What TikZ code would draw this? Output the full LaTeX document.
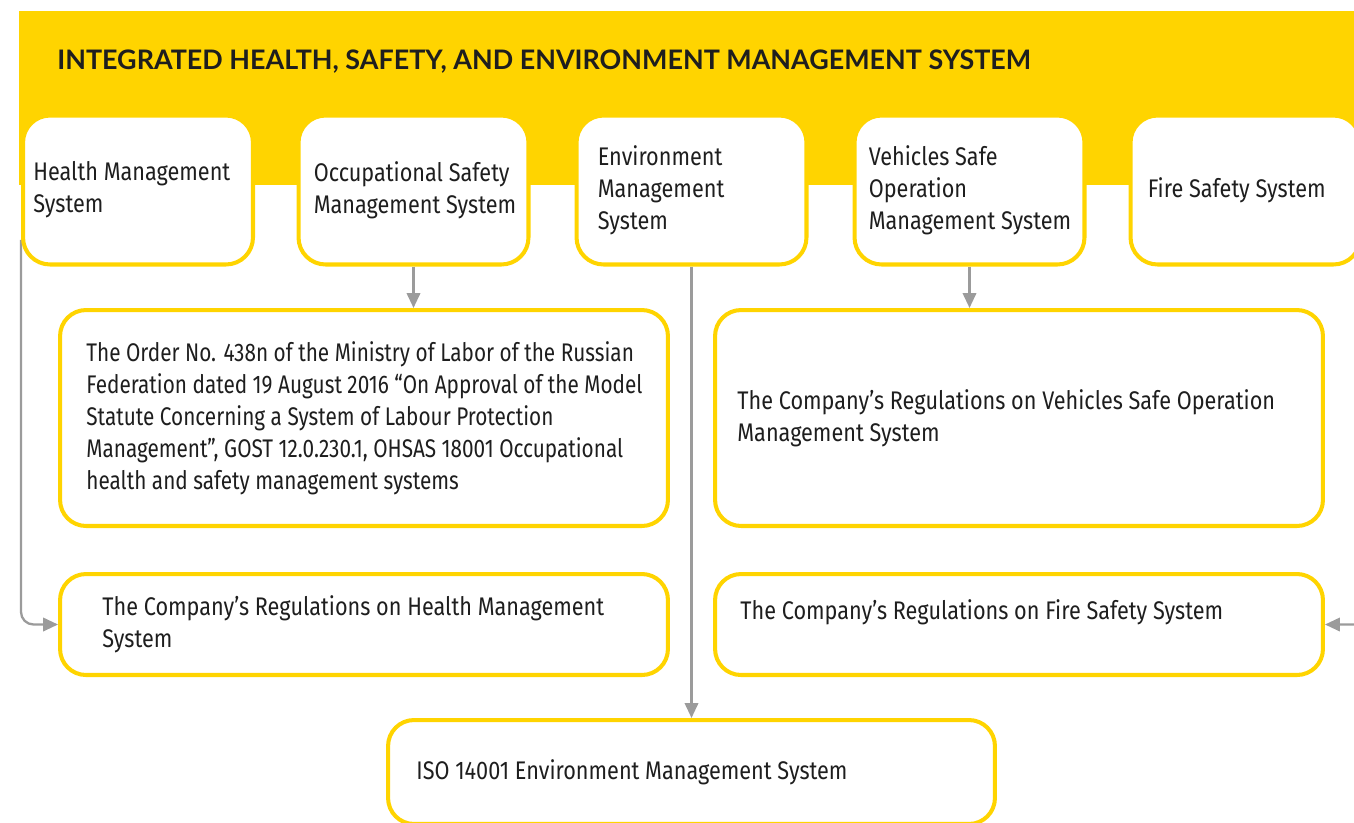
\documentclass[tikz,border=0pt]{standalone}
\usepackage{fontspec}
\setmainfont{Fira Sans}[FakeStretch=0.85]
\newfontfamily\ordfont{Fira Sans}[FakeStretch=0.815]
\newfontfamily\titlefont{Lato}
\usepackage{tikz}
\usetikzlibrary{arrows.meta,positioning,backgrounds}
\definecolor{hseyellow}{HTML}{FFD400}
\definecolor{hsegray}  {HTML}{9B9B9B}
\definecolor{hsetext}  {HTML}{1E1E1E}

\begin{document}
\begin{tikzpicture}[x=0.02cm, y=-0.02cm,
      topbox/.style={draw=hseyellow, line width=2.3pt, fill=white, rounded corners=0.54cm,
                     minimum width=4.6cm, minimum height=2.98cm},
      rulebox/.style={draw=hseyellow, line width=2.3pt, fill=white, rounded corners=0.52cm,
                      minimum width=12.16cm},
      boxtext/.style={inner sep=0pt, align=left, text=hsetext,
                      font=\fontsize{14.5}{18.2}\selectfont},
      conn/.style={hsegray, line width=1.3pt, -{Triangle[length=3mm,width=2.7mm]}},
    ]
      \useasboundingbox (0,0) rectangle (1354,822);

      % top row
      \node[topbox] (hms) at (138,190) {};
      \node[topbox] (oss) at (413.5,190) {};
      \node[topbox] (ems) at (691.5,190) {};
      \node[topbox] (vso) at (969.5,190) {};
      \node[topbox] (fss) at (1245.5,190) {};

      \node[boxtext, right=0.24cm of hms.west] (hmstxt) {Health Management\\System};
      \node[boxtext, right=0.34cm of oss.west] (osstxt) {Occupational Safety\\Management System};
      \node[boxtext, right=0.46cm of ems.west] (emstxt) {Environment\\Management\\System};
      \node[boxtext, right=0.32cm of vso.west] (vsotxt) {Vehicles Safe\\Operation\\Management System};
      \node[boxtext, right=0.38cm of fss.west] (fsstxt) {Fire Safety System};

      % documents
      \node[rulebox, minimum height=4.32cm] (ohsreg) at (364,418) {};
      \node[rulebox, minimum height=4.32cm] (vsoreg) at (1019,418) {};
      \node[rulebox, minimum height=2.02cm] (hmreg)  at (364,624.5) {};
      \node[rulebox, minimum height=2.02cm] (fsreg)  at (1019,624.5) {};
      \node[rulebox, minimum width=12.14cm, minimum height=2.08cm] (isoreg) at (691.5,772) {};

      \node[boxtext, font=\ordfont\fontsize{14.5}{18.2}\selectfont,
            right=0.56cm of ohsreg.west] (ohstxt)
        {The Order No. 438n of the Ministry of Labor of the Russian\\
         Federation dated 19 August 2016 “On Approval of the Model\\
         Statute Concerning a System of Labour Protection\\
         Management”, GOST 12.0.230.1, OHSAS 18001 Occupational\\
         health and safety management systems};
      \node[boxtext, right=0.48cm of vsoreg.west] (vsoregtxt)
        {The Company’s Regulations on Vehicles Safe Operation\\Management System};
      \node[boxtext, right=0.88cm of hmreg.west] (hmregtxt)
        {The Company’s Regulations on Health Management\\System};
      \node[boxtext, right=0.54cm of fsreg.west, yshift=0.25cm] (fsregtxt)
        {The Company’s Regulations on Fire Safety System};
      \node[boxtext, right=0.6cm of isoreg.west] (isotxt)
        {ISO 14001 Environment Management System};

      \begin{pgfonlayer}{background}
        \fill[hseyellow] (19,11) rectangle (1380,185);
        \node[anchor=west, inner sep=0pt, text=hsetext,
              font=\titlefont\bfseries\fontsize{15.3}{18}\selectfont] (title) at (57,62)
          {INTEGRATED HEALTH, SAFETY, AND ENVIRONMENT MANAGEMENT SYSTEM};

        \draw[conn] (oss.south) -- (oss.south |- ohsreg.north);
        \draw[conn] (vso.south) -- (vso.south |- vsoreg.north);
        \draw[conn] (ems.south) -- (isoreg.north);
        \draw[conn, rounded corners=0.25cm] ([yshift=-1cm]hms.west) |- (hmreg.west);
        \draw[conn, rounded corners=0.25cm] (fss.east) -- ++(10,0) |- (fsreg.east);
      \end{pgfonlayer}
    \end{tikzpicture}
\end{document}
